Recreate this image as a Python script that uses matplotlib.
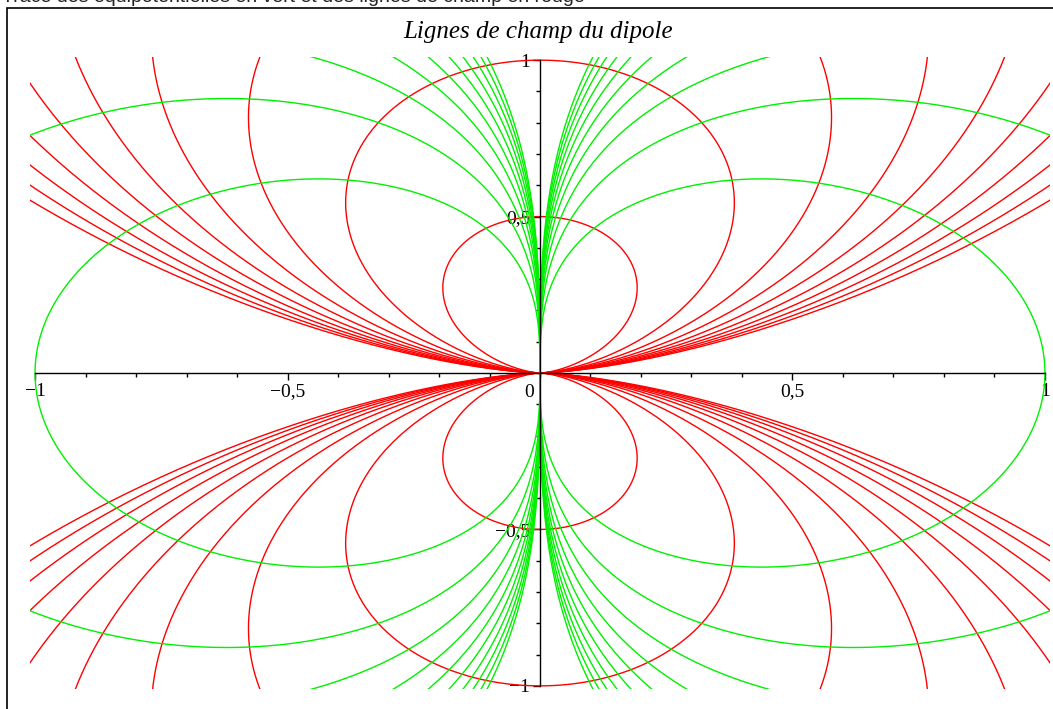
"""
Lignes de champ et equipotentielles du dipole
"""
import numpy as np
import matplotlib.pyplot as plt
from matplotlib.patches import Rectangle

# =============================================================================
#     Data (constants)
# =============================================================================

# field lines r = C sin^2(phi)
field_consts = [0.5, 1.0, 1.5, 2.0, 2.5, 3.0, 3.5, 4.0, 4.5, 5.0]
# equipotentials r^2 = K |cos(phi)|
equipot_consts = [1, 2, 3, 4, 5, 6, 7, 8, 9, 10]

x_ticks = [-1, -0.5, 0.5, 1]
x_labels = ['\u22121', '\u22120,5', '0,5', '1']
y_ticks = [-1, -0.5, 0.5, 1]
y_labels = ['\u22121', '\u22120,5', '0,5', '1']

title = 'Lignes de champ du dipole'
caption = 'Tracé des équipotentielles en vert et des lignes de champ en rouge'

W, H = 1053, 709

fig = plt.figure(figsize=(W / 100, H / 100), dpi=100)
ax = fig.add_axes([30 / W, 20 / H, 1020 / W, 632 / H])

phi = np.linspace(0, 2 * np.pi, 4001)

# Field lines (red)
for c in field_consts:
    r = c * np.sin(phi) ** 2
    ax.plot(r * np.cos(phi), r * np.sin(phi), color='#ff0000', lw=1.0)

# Equipotentials (green)
for k in equipot_consts:
    r = np.sqrt(k * np.abs(np.cos(phi)))
    ax.plot(r * np.cos(phi), r * np.sin(phi), color='#00f000', lw=1.0)

ax.set_xlim(-1.01, 1.01)
ax.set_ylim(-1.01, 1.01)

# Axes through the origin
for s in ['top', 'right']:
    ax.spines[s].set_visible(False)
ax.spines['left'].set_position(('data', 0))
ax.spines['bottom'].set_position(('data', 0))
ax.spines['left'].set_bounds(-1, 1)
ax.spines['bottom'].set_bounds(-1, 1)
for s in ['left', 'bottom']:
    ax.spines[s].set_linewidth(1.0)
    ax.spines[s].set_zorder(3)

ax.set_xticks(x_ticks)
ax.set_xticklabels(x_labels)
ax.set_yticks(y_ticks)
ax.set_yticklabels(y_labels)
ax.set_xticks(np.arange(-10, 11) / 10, minor=True)
ax.set_yticks(np.arange(-10, 11) / 10, minor=True)
ax.tick_params(axis='both', which='major', direction='out', length=5,
               width=1, labelsize=14, pad=2)
ax.tick_params(axis='both', which='minor', direction='out', length=3,
               width=1)
for lab in ax.get_xticklabels() + ax.get_yticklabels():
    lab.set_family('Liberation Serif')

# origin label, shifted left of the vertical axis
ax.text(-0.012, -0.035, '0', ha='right', va='top',
        fontsize=14, family='Liberation Serif')

fig.text(538 / W, 1 - 32 / H, title, ha='center', va='center',
         fontsize=18, family='Liberation Serif', style='italic')

# Frame and cut caption of the page
fig.patches.append(Rectangle((7 / W, -0.1), 1.2, (H - 8) / H + 0.1,
                             transform=fig.transFigure, fill=False,
                             edgecolor='black', lw=1.2))
fig.text(2 / W, 1 - 2 / H, caption, ha='left', va='baseline',
         fontsize=14, family='Liberation Sans', color='#222222')

fig.savefig('out.png', dpi=100)
